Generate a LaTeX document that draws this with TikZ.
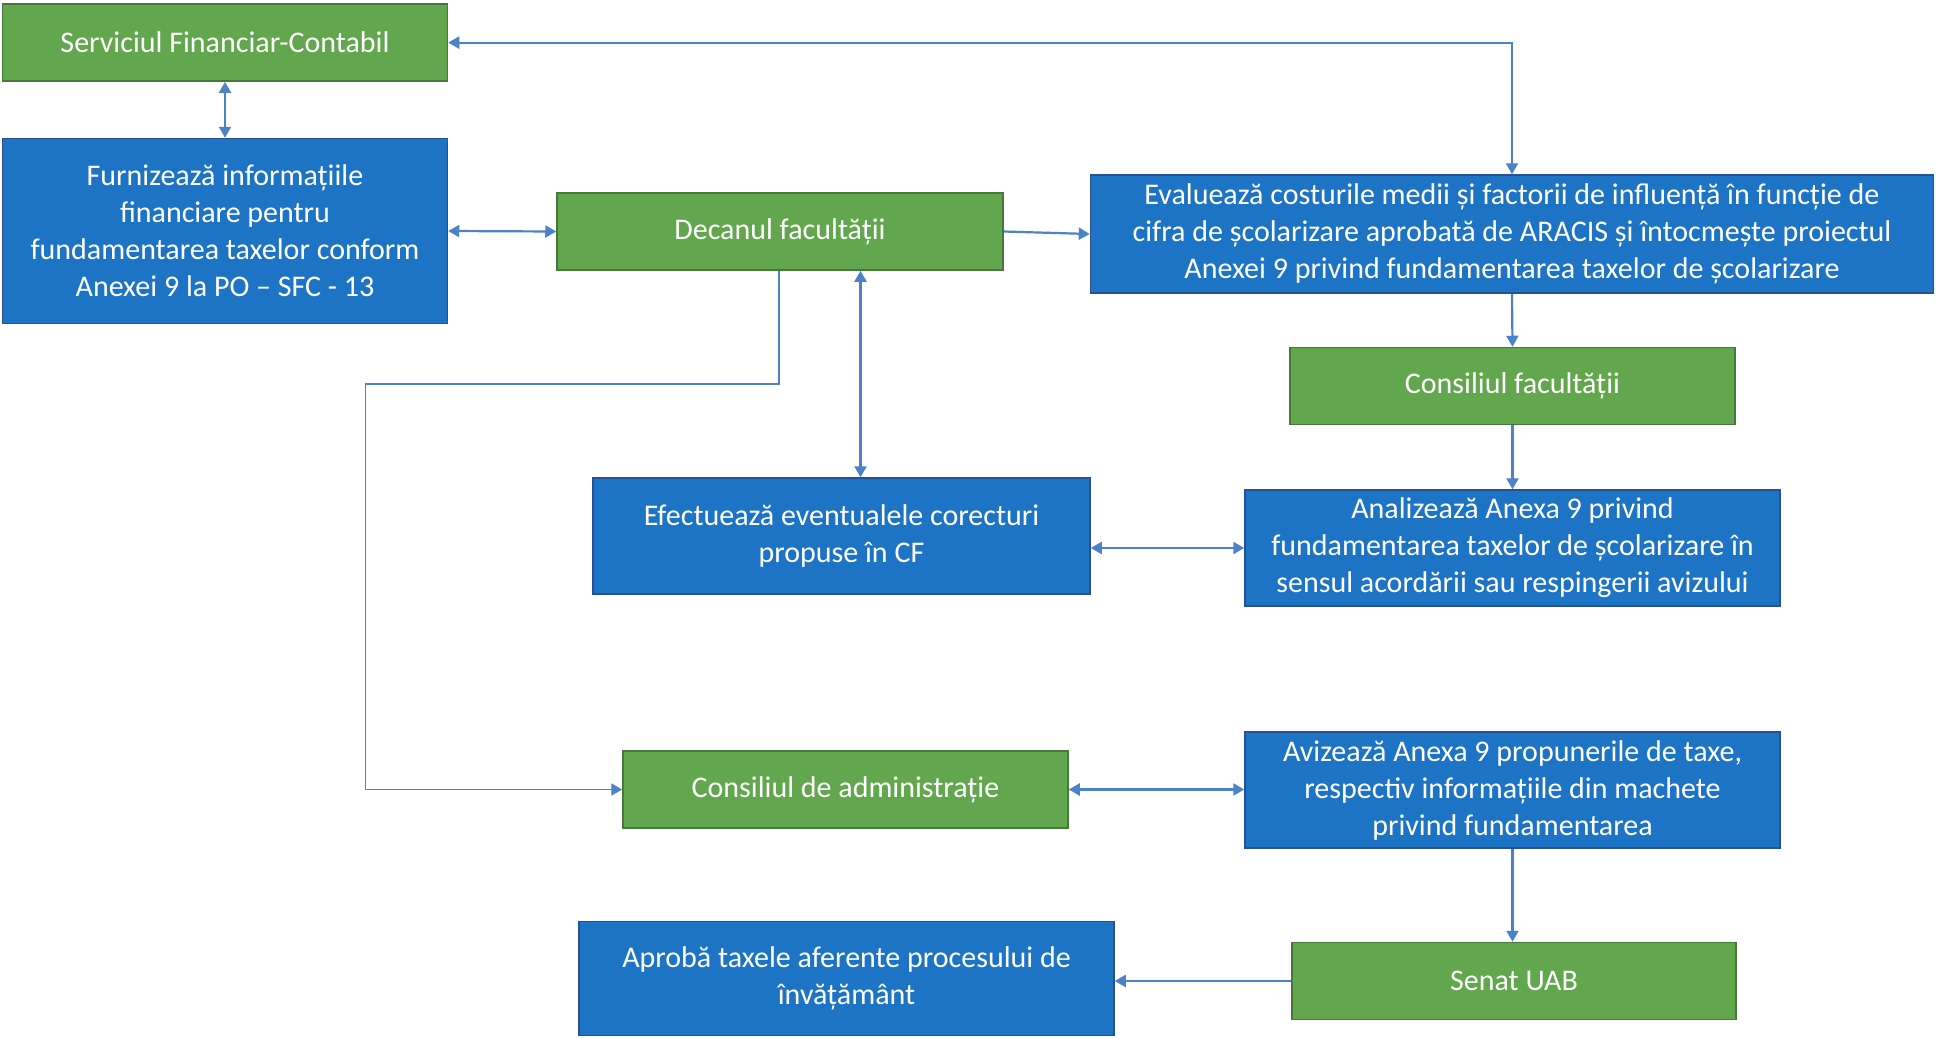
\documentclass[tikz,border=0pt]{standalone}
\usepackage{fontspec}
\setmainfont{Carlito}
\usetikzlibrary{arrows.meta}
\definecolor{boxgreen}{RGB}{98,166,78}
\definecolor{greenborder}{RGB}{70,120,60}
\definecolor{boxblue}{RGB}{30,116,196}
\definecolor{blueborder}{RGB}{40,80,150}
\definecolor{linkblue}{RGB}{75,130,200}
\tikzset{
  base/.style={rectangle, inner sep=0pt, text=white, align=center, line width=1.5pt,
    font=\fontsize{30}{37}\selectfont},
  gbox/.style={base, fill=boxgreen, draw=greenborder},
  bbox/.style={base, fill=boxblue, draw=blueborder},
  link/.style={draw=linkblue, line width=2.2pt},
  arr/.style={link, -{Triangle[width=12pt,length=11pt]}},
  biarr/.style={link, {Triangle[width=12pt,length=11pt]}-{Triangle[width=12pt,length=11pt]}},
}
\begin{document}
\begin{tikzpicture}[x=1pt,y=-1pt]
\useasboundingbox[fill=white] (0,0) rectangle (1936,1037);
\node[gbox, minimum width=445pt, minimum height=77pt] (sfc) at (225,42.6) {Serviciul Financiar-Contabil};
\node[bbox, minimum width=445pt, minimum height=185pt] (furn) at (225,231) {Furnizează informațiile\\financiare pentru\\fundamentarea taxelor conform\\Anexei 9 la PO – SFC - 13};
\node[gbox, minimum width=446pt, minimum height=77pt] (dec) at (780,231.5) {Decanul facultății};
\node[bbox, minimum width=843pt, minimum height=118pt] (eval) at (1512,234) {Evaluează costurile medii și factorii de influență în funcție de\\cifra de școlarizare aprobată de ARACIS și întocmește proiectul\\Anexei 9 privind fundamentarea taxelor de școlarizare};
\node[gbox, minimum width=445pt, minimum height=77pt] (cf) at (1512.5,386) {Consiliul facultății};
\node[bbox, minimum width=497pt, minimum height=116pt] (eff) at (841.5,536) {Efectuează eventualele corecturi\\propuse în CF};
\node[bbox, minimum width=535pt, minimum height=116pt] (anal) at (1512.5,548) {Analizează Anexa 9 privind\\fundamentarea taxelor de școlarizare în\\sensul acordării sau respingerii avizului};
\node[gbox, minimum width=445pt, minimum height=77pt] (adm) at (845.5,789.5) {Consiliul de administrație};
\node[bbox, minimum width=535pt, minimum height=116pt] (aviz) at (1512.5,790) {Avizează Anexa 9 propunerile de taxe,\\respectiv informațiile din machete\\privind fundamentarea};
\node[bbox, minimum width=535pt, minimum height=114pt] (apr) at (846.5,978.5) {Aprobă taxele aferente procesului de\\învățământ};
\node[gbox, minimum width=444pt, minimum height=77pt] (sen) at (1514,981) {Senat UAB};
\coordinate (bend) at (365.5,384);
% connectors
\draw[biarr] (sfc.south) -- (furn.north);
\draw[biarr] (sfc.east) -- (sfc.east -| eval.north) -- (eval.north);
\draw[biarr] (furn.east) -- (dec.west);
\draw[arr] (dec.east) -- (eval.west);
\draw[biarr] ([xshift=80.5pt]dec.south) -- ([xshift=80.5pt]dec.south |- eff.north);
\draw[arr, line width=1.6pt] ([xshift=-1pt]dec.south) |- (bend) -- (bend |- adm.west) -- (adm.west);
\draw[arr] (eval.south) -- (cf.north);
\draw[arr] (cf.south) -- (anal.north);
\draw[biarr] (anal.west -| eff.east) -- (anal.west);
\draw[biarr] (adm.east) -- (adm.east -| aviz.west);
\draw[arr] (aviz.south) -- (aviz.south |- sen.north);
\draw[arr] (sen.west) -- (sen.west -| apr.east);
\end{tikzpicture}
\end{document}
